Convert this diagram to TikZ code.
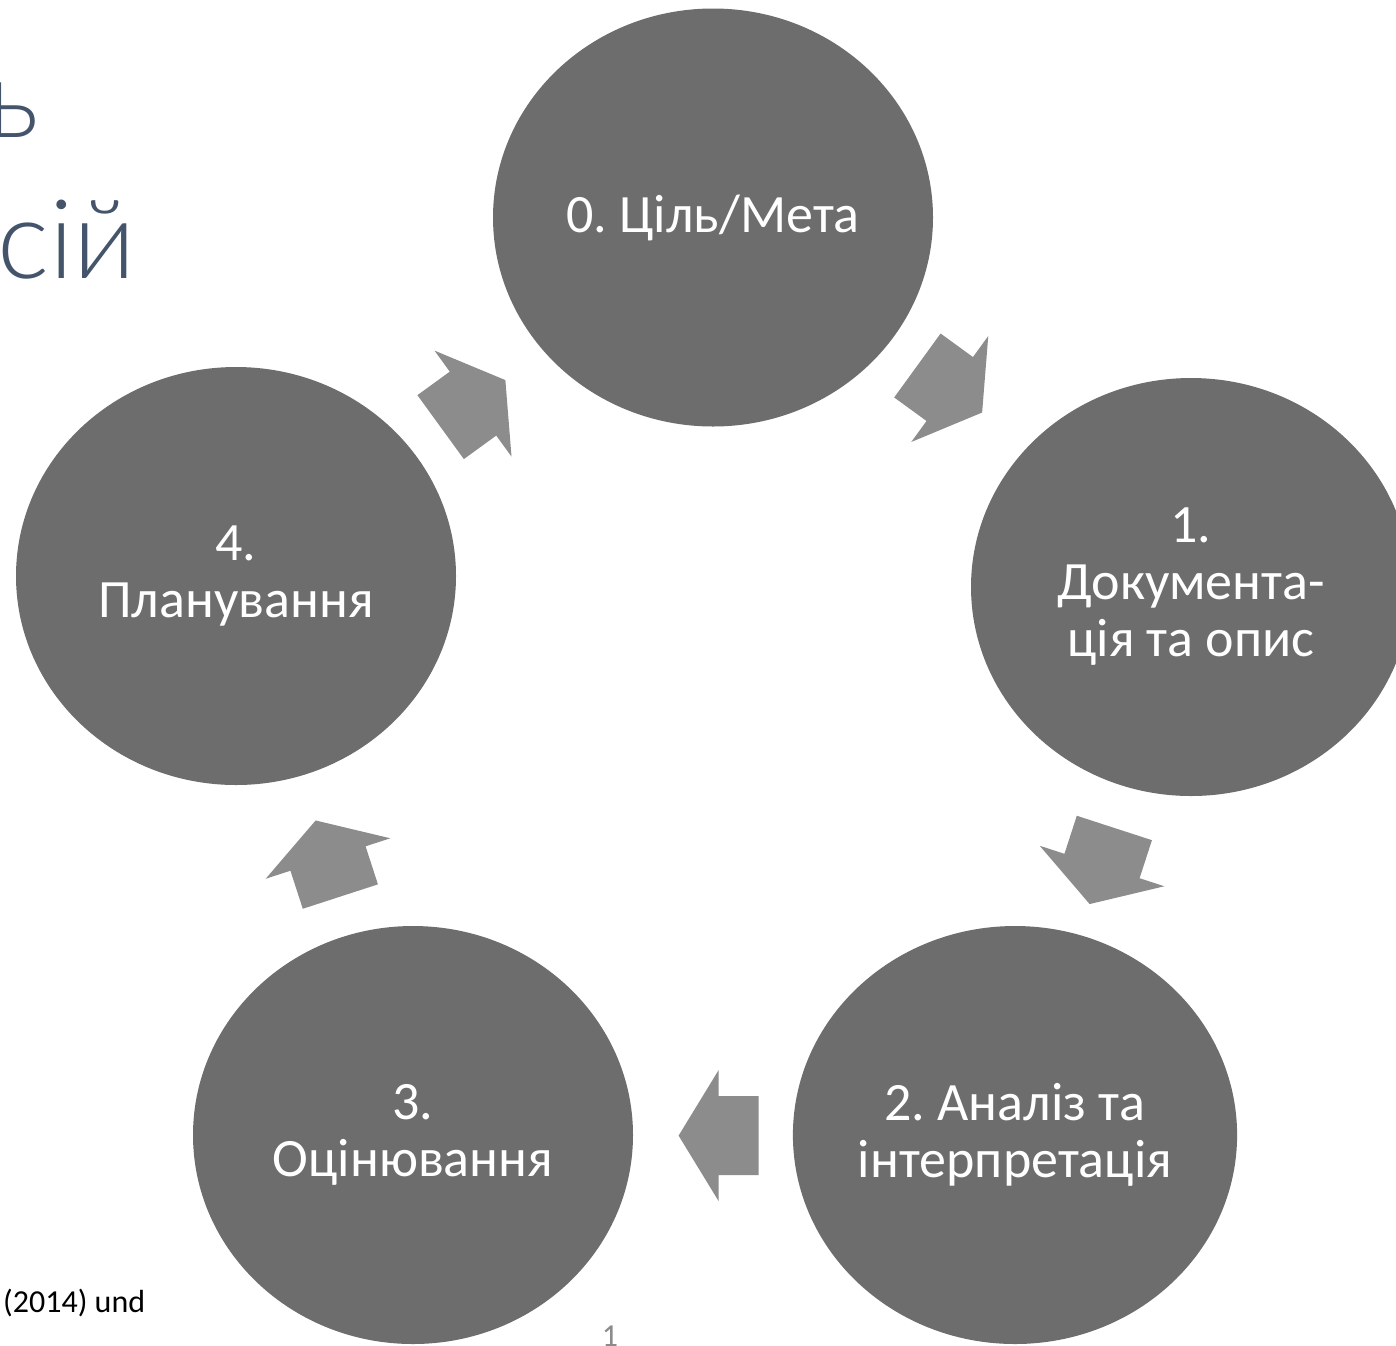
\documentclass[tikz,border=0pt]{standalone}
\usepackage{fontspec}
\setmainfont{Carlito}
\newfontfamily\titlefont{Lato Light}
\usetikzlibrary{shapes.geometric}
\definecolor{circfill}{HTML}{6D6D6D}
\definecolor{arrfill}{HTML}{8C8C8C}
\definecolor{titlecol}{HTML}{44546A}
\definecolor{pagenum}{HTML}{8B8B8B}
\frenchspacing
\tikzset{
  stage/.style={ellipse, fill=circfill, draw=none, minimum width=440pt,
    minimum height=418pt, inner sep=0pt, text=white, align=center,
    font=\fontsize{54}{57}\selectfont},
  cyclearr/.style={fill=arrfill, draw=none},
  titletext/.style={inner sep=0pt, text=titlecol, font=\titlefont\fontsize{110}{114}\selectfont},
  foottext/.style={inner sep=0pt, font=\fontsize{32}{38}\selectfont},
}
% name, centre, rotation (canvas, counter-clockwise)
\newcommand\cyclearrow[3]{%
  \coordinate (#1) at #2;
  \fill[cyclearr, shift={(#1)}, rotate=#3]
    (40,0) -- (0,-65.5) -- (0,-39.5) -- (-40,-39.5) -- (-40,39.5)
    -- (0,39.5) -- (0,65.5) -- cycle;}
\begin{document}
\begin{tikzpicture}[x=1pt,y=-1pt]
  \useasboundingbox (0,0) rectangle (1396,1345);
  \fill[white] (0,0) rectangle (1396,1345);
  \clip (0,0) rectangle (1396,1345);

  % title fragments
  \node[titletext, anchor=base east] (t1) at (40,137) {ь};
  \node[titletext, anchor=base west] (t2) at (-3,278) {сій};

  % stages
  \node[stage] (s0) at (713,217.5) {0. Ціль/Мета};
  \node[stage] (s1) at (1191,587) {1.\\Документа-\\ція та опис};
  \node[stage] (s2) at (1015,1135) {2. Аналіз та\\інтерпретація};
  \node[stage] (s3) at (413,1135) {3.\\Оцінювання};
  \node[stage] (s4) at (236,576) {4.\\Планування};

  % cycle arrows
  \cyclearrow{a01}{(949.75,389)}{-36}
  \cyclearrow{a12}{(1102,866)}{-108}
  \cyclearrow{a23}{(718.6,1135.6)}{180}
  \cyclearrow{a34}{(328,858.5)}{108}
  \cyclearrow{a40}{(473,403.6)}{36}

  % footer
  \node[foottext, anchor=base west] (src) at (3,1312) {(2014) und};
  \node[foottext, anchor=base, text=pagenum] (pg) at (610,1346) {1};
\end{tikzpicture}
\end{document}
